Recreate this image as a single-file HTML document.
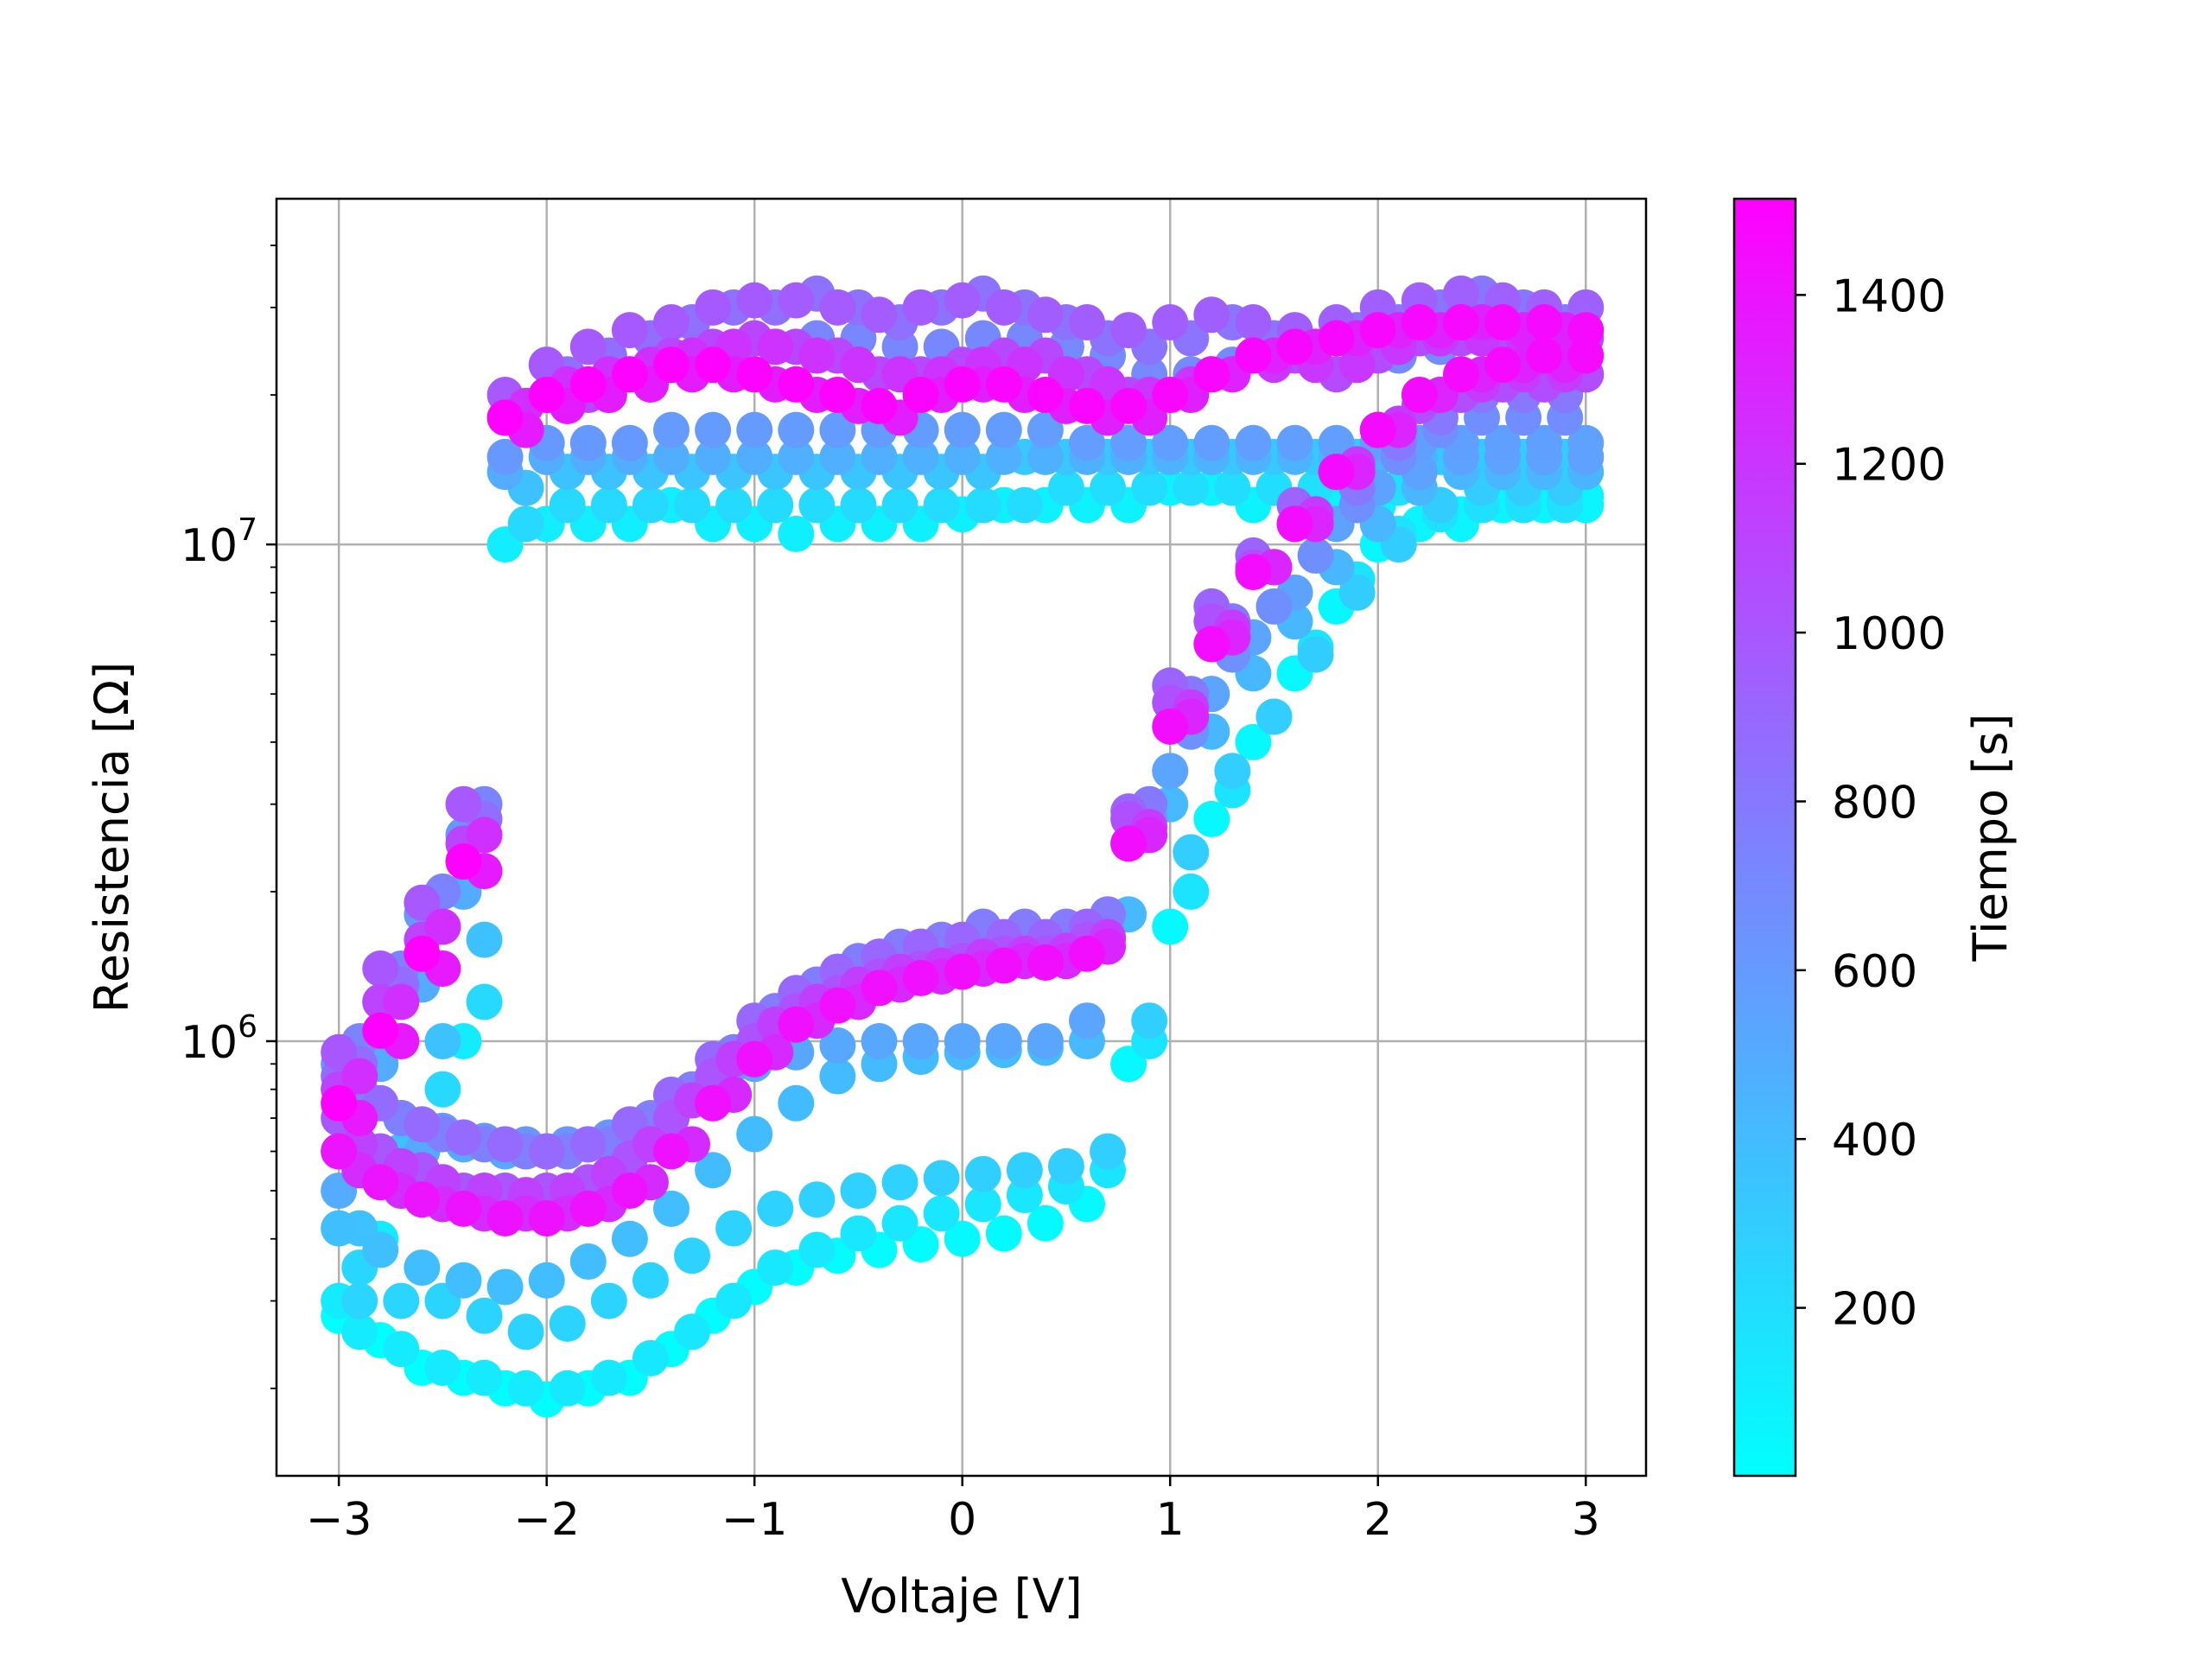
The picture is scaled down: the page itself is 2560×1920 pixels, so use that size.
<!DOCTYPE html>
<html><head><meta charset="utf-8"><style>
html,body{margin:0;padding:0;background:#fff;}
svg{display:block;font-family:"DejaVu Sans","Liberation Sans",sans-serif;}
</style></head><body>
<svg id="chart" width="2560" height="1920" viewBox="0 0 2560 1920" xmlns="http://www.w3.org/2000/svg">
<rect width="2560" height="1920" fill="#fff"/>
<defs><linearGradient id="cool" x1="0" y1="1" x2="0" y2="0"><stop offset="0" stop-color="#00ffff"/><stop offset="1" stop-color="#ff00ff"/></linearGradient>
<clipPath id="plotclip"><rect x="320" y="230" width="1585" height="1478"/></clipPath></defs>
<g id="grid"></g>
<g id="points" clip-path="url(#plotclip)"></g>
<rect x="320" y="230" width="1585" height="1478" fill="none" stroke="#000" stroke-width="2.5"/>
<g id="axes"></g>
<text x="1113" y="1866" font-size="54" text-anchor="middle">Voltaje [V]</text>
<text transform="translate(148,969) rotate(-90)" font-size="54" text-anchor="middle">Resistencia [Ω]</text>
<rect x="2007" y="230" width="71" height="1478" fill="url(#cool)" stroke="#000" stroke-width="2.5"/>
<g id="cbar"></g>
<text transform="translate(2322,969) rotate(-90)" font-size="54" text-anchor="middle">Tiempo [s]</text>
</svg>
<script>
const NS="http://www.w3.org/2000/svg";
// cycle start times (s)
const cycleStarts=[0,120,250,380,500,620,750,880,1000,1120,1250,1400];
// voltage grid start per cycle (V), step 0.2
const gridStarts=[-3,-2.9,-2.9,-3,-3,-2.9,-2.9,-3,-3,-2.9,-2.9,-3];
// low-resistance branch (upward sweep), MΩ
const lowBranch=[
[0.28,0.25,0.22,0.21,0.2,0.19,0.2,0.21,0.24,0.28,0.32,0.35,0.37,0.38,0.39,0.4,0.41,0.43,0.47,0.9,1.7,2.8,4.0,5.5,7.5,10,11,11.5,12,12,12.5],
[0.26,0.24,0.22,0.21,0.2,0.2,0.21,0.23,0.26,0.3,0.35,0.38,0.41,0.43,0.45,0.47,0.49,0.51,0.55,1.0,2.0,3.2,4.5,6.2,8.5,10.5,11.5,12,12.5,12.5],
[0.3,0.3,0.3,0.28,0.26,0.27,0.3,0.33,0.37,0.42,0.46,0.48,0.5,0.52,0.53,0.54,0.55,0.56,0.6,1.1,2.4,3.5,4.5,6,8,10,12,13,13,13],
[0.42,0.38,0.35,0.33,0.32,0.33,0.36,0.4,0.46,0.55,0.65,0.75,0.85,0.9,0.93,0.95,0.96,0.97,1.0,1.8,3.0,4.2,5.5,7,9,11,13,14,14,14,14],
[0.5,0.55,0.6,0.62,0.6,0.6,0.62,0.65,0.7,0.8,0.9,0.95,0.98,1.0,1.0,1.0,1.0,1.0,1.1,2.5,3.5,5,6.5,8,11,13,14,15,15,15,15],
[0.75,0.7,0.66,0.63,0.62,0.62,0.64,0.68,0.76,0.9,1.05,1.2,1.3,1.4,1.45,1.5,1.5,1.5,1.6,2.8,4.2,6,7.5,9.5,12,15,17,18,18,18],
[0.8,0.7,0.65,0.62,0.6,0.6,0.62,0.7,0.8,0.95,1.15,1.3,1.45,1.55,1.6,1.7,1.7,1.7,1.8,3,5,7,9,11,13,16,18,20,20,20],
[0.85,0.75,0.68,0.64,0.62,0.6,0.62,0.68,0.78,0.92,1.1,1.25,1.38,1.48,1.55,1.6,1.62,1.62,1.7,2.9,5.2,7.5,9.5,12,14,17,19,21,22,22,22],
[0.7,0.6,0.55,0.5,0.5,0.5,0.52,0.58,0.7,0.85,1.0,1.15,1.25,1.35,1.4,1.45,1.5,1.5,1.6,2.8,4.8,7,9,11,14,17,19,20,21,21,22],
[0.62,0.56,0.52,0.5,0.49,0.5,0.54,0.62,0.76,0.92,1.08,1.2,1.3,1.38,1.42,1.48,1.5,1.52,1.62,2.7,4.7,6.8,9,11.5,14.5,17.5,20,21,22,22],
[0.55,0.5,0.47,0.45,0.45,0.45,0.47,0.52,0.62,0.78,0.95,1.1,1.2,1.3,1.35,1.4,1.45,1.45,1.55,2.6,4.5,6.5,9,11,14,17,20,22,23,23],
[0.6,0.52,0.48,0.46,0.44,0.44,0.46,0.5,0.6,0.75,0.92,1.08,1.18,1.28,1.34,1.38,1.42,1.44,1.5,2.5,4.3,6.3,8.8,11,14,17,20,22,23,24,24]
];
// high-resistance branch (downward sweep), listed in ascending voltage order, MΩ
const highBranch=[
[0.3,0.4,0.6,1.0,10,11,11,11,12,11,11,10.5,11,11,11,11.5,12,12,12,12,13,13,12,12,12,12,11,11,12,12,12],
[0.35,0.5,0.8,1.2,11,12,12,12,12,12,12,12,12,12,12,12,12,13,13,13,13,13,13,13,13,13,12,12,12,12],
[0.42,0.6,1.0,1.6,13,14,14,14,14,14,14,14,14,14,14,14,15,15,15,15,15,15,15,15,15,15,15,15,15,15],
[0.6,0.9,1.3,2.0,14,15,15,15,15,15,15,15,15,15,15,15,15,15,15,15,15,15,15,15,15,15,15,15,15,15,15],
[0.9,1.2,1.8,2.6,15,16,16,16,17,17,17,17,17,17,17,17,17,17,16,16,16,16,16,16,16,16,16,16,16,16,16],
[1.0,1.4,2.0,3.0,17,19,20,21,22,24,25,26,26,25,25,26,26,25,24,22,22,23,24,23,23,24,25,26,26,25],
[0.9,1.3,1.7,2.8,19,22,24,26,28,30,30,32,30,28,30,32,30,28,26,25,26,28,26,25,27,28,30,32,30,28],
[0.95,1.4,1.9,3.0,20,23,25,27,28,30,31,31,30,29,30,31,30,29,28,27,28,29,28,27,28,30,31,32,31,30,30],
[0.8,1.2,1.6,2.5,18,20,20,22,24,25,26,25,24,22,22,23,24,24,22,20,20,22,24,24,22,24,26,26,25,25,26],
[0.85,1.2,1.7,2.6,19,21,22,23,24,25,25,24,23,22,22,23,23,22,21,20,21,22,23,23,23,25,26,26,26,26],
[0.7,1.0,1.4,2.2,17,19,20,21,22,22,21,20,19,18,20,21,20,19,18,18,20,22,24,25,26,27,27,28,27,27],
[0.75,1.05,1.5,2.3,18,20,21,22,23,23,22,21,20,19,20,21,21,20,19,19,20,22,24,25,26,27,28,28,28,28,27]
];
const xTicks=[-3,-2,-1,0,1,2,3];
const xTickLabels=["−3","−2","−1","0","1","2","3"];
const yMajor=[6,7];
const cTicks=[200,400,600,800,1000,1200,1400];

const X0=320,X1=1905,Y0=230,Y1=1708;
const xmin=-3.30,xmax=3.29,lmin=5.125,lmax=7.696,cmin=1,cmax=1514;
const sx=v=>X0+(v-xmin)/(xmax-xmin)*(X1-X0);
const sy=r=>Y1-(Math.log10(r)-lmin)/(lmax-lmin)*(Y1-Y0);
const sc=t=>Y1-(t-cmin)/(cmax-cmin)*(Y1-Y0);
function cool(t){let f=Math.max(0,Math.min(1,(t-cmin)/(cmax-cmin)));return `rgb(${Math.round(255*f)},${Math.round(255*(1-f))},255)`;}
function mk(tag,attrs,parent){const e=document.createElementNS(NS,tag);for(const k in attrs)e.setAttribute(k,attrs[k]);parent.appendChild(e);return e;}

const grid=document.getElementById('grid'),axes=document.getElementById('axes'),pts=document.getElementById('points'),cbar=document.getElementById('cbar');
xTicks.forEach((v,i)=>{
  const x=sx(v);
  const g=mk('line',{x1:x,x2:x,y1:Y0,y2:Y1,stroke:'#b0b0b0','stroke-width':2.5},grid);
  
  
  const t=mk('line',{x1:x,x2:x,y1:Y1,y2:Y1+12,stroke:'#000','stroke-width':2.5},axes);
  
  
  const l=mk('text',{x:x,y:Y1+68,'font-size':52,'text-anchor':'middle'},axes);
  l.textContent=xTickLabels[i];
  
  
});
yMajor.forEach(p=>{
  const y=sy(Math.pow(10,p));
  const g=mk('line',{x1:X0,x2:X1,y1:y,y2:y,stroke:'#b0b0b0','stroke-width':2.5},grid);
  
  
  const t=mk('line',{x1:X0-12,x2:X0,y1:y,y2:y,stroke:'#000','stroke-width':2.5},axes);
  
  
  const l=mk('text',{x:X0-22,y:y+19,'font-size':52,'text-anchor':'end'},axes);
  l.innerHTML='10<tspan dy="-24" font-size="36">'+p+'</tspan>';
  
  
});
for(let p=5;p<=7;p++)for(let m=2;m<=9;m++){
  const v=m*Math.pow(10,p);const y=sy(v);if(y<Y0||y>Y1)continue;
  const t=mk('line',{x1:X0-7,x2:X0,y1:y,y2:y,stroke:'#000','stroke-width':1.8},axes);
  
  
}
cTicks.forEach(c=>{
  const y=sc(c);
  const t=mk('line',{x1:2078,x2:2090,y1:y,y2:y,stroke:'#000','stroke-width':2.5},cbar);
  
  
  const l=mk('text',{x:2120,y:y+19,'font-size':52},cbar);
  l.textContent=c;
  
  
});
// points
for(let c=0;c<cycleStarts.length;c++){
  const lo=lowBranch[c],hi=highBranch[c],t0=cycleStarts[c],g0=gridStarts[c];
  const n=lo.length;
  for(let i=0;i<n;i++){
    const v=g0+0.2*i,t=t0+60*i/n;
    const e=mk('circle',{cx:sx(v),cy:sy(lo[i]*1e6),r:21,fill:cool(t)},pts);
    
    
  }
  const m=hi.length;
  for(let j=m-1;j>=0;j--){
    const v=g0+0.2*j,t=t0+60+60*(m-1-j)/m;
    const e=mk('circle',{cx:sx(v),cy:sy(hi[j]*1e6),r:21,fill:cool(t)},pts);
    
    
  }
}
</script>
</body></html>
